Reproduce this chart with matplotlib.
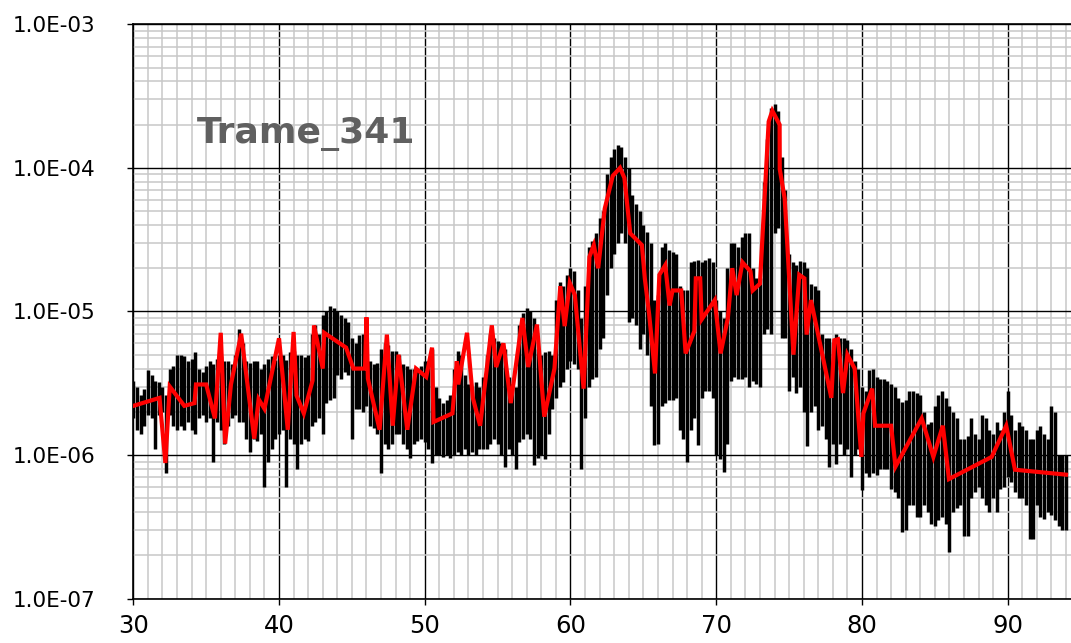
import numpy as np
import matplotlib
matplotlib.use("Agg")
import matplotlib.pyplot as plt
from matplotlib.ticker import MultipleLocator, LogLocator, FuncFormatter, NullFormatter

# ---------------- data ----------------
title_text = "Trame_341"
y_ticks = [1e-7, 1e-6, 1e-5, 1e-4, 1e-3]
x_ticks = [30, 40, 50, 60, 70, 80, 90]

# black (raw) signal: per 0.25-unit bin, upper and lower extent
bin_start, bin_step = 30.0, 0.25
raw_hi = [
    3.3e-6, 3.0e-6, 2.6e-6, 2.9e-6,   # 30
    3.9e-6, 3.6e-6, 3.3e-6, 3.2e-6,   # 31
    3.0e-6, 2.6e-6, 4.0e-6, 4.2e-6,   # 32
    5.0e-6, 5.0e-6, 4.9e-6, 4.5e-6,   # 33
    4.7e-6, 5.2e-6, 4.0e-6, 3.8e-6,   # 34
    4.2e-6, 4.5e-6, 4.3e-6, 4.7e-6,   # 35
    4.9e-6, 4.5e-6, 4.5e-6, 4.3e-6,   # 36
    5.0e-6, 7.5e-6, 6.0e-6, 4.5e-6,   # 37
    4.4e-6, 4.5e-6, 4.5e-6, 4.0e-6,   # 38
    4.3e-6, 4.7e-6, 4.9e-6, 4.6e-6,   # 39
    5.0e-6, 5.0e-6, 4.6e-6, 5.2e-6,   # 40
    5.3e-6, 5.0e-6, 5.0e-6, 4.8e-6,   # 41
    5.0e-6, 7.0e-6, 8.0e-6, 7.0e-6,   # 42
    9.5e-6, 1.0e-5, 1.1e-5, 1.05e-5,  # 43
    1.0e-5, 9.5e-6, 9.0e-6, 8.5e-6,   # 44
    6.5e-6, 6.0e-6, 6.8e-6, 7.0e-6,   # 45
    5.5e-6, 4.5e-6, 4.3e-6, 4.4e-6,   # 46
    5.5e-6, 6.0e-6, 5.8e-6, 5.3e-6,   # 47
    5.3e-6, 5.0e-6, 4.3e-6, 4.2e-6,   # 48
    4.0e-6, 4.0e-6, 4.0e-6, 4.2e-6,   # 49
    4.5e-6, 4.5e-6, 5.5e-6, 3.0e-6,   # 50
    2.5e-6, 2.3e-6, 2.4e-6, 2.6e-6,   # 51
    4.0e-6, 5.3e-6, 5.0e-6, 3.6e-6,   # 52
    3.1e-6, 3.0e-6, 3.2e-6, 3.0e-6,   # 53
    3.5e-6, 5.0e-6, 7.0e-6, 6.5e-6,   # 54
    6.2e-6, 6.0e-6, 5.5e-6, 3.5e-6,   # 55
    3.1e-6, 3.0e-6, 8.0e-6, 9.8e-6,   # 56
    1.05e-5, 1.0e-5, 9.0e-6, 5.5e-6,  # 57
    5.0e-6, 5.2e-6, 5.3e-6, 5.0e-6,   # 58
    1.2e-5, 1.6e-5, 1.5e-5, 1.8e-5,   # 59
    2.0e-5, 1.9e-5, 1.4e-5, 9.0e-6,   # 60
    1.5e-5, 2.8e-5, 3.1e-5, 3.5e-5,   # 61
    4.5e-5, 5.0e-5, 9.0e-5, 1.2e-4,   # 62
    1.35e-4, 1.45e-4, 1.4e-4, 1.2e-4, # 63
    1.0e-4, 6.5e-5, 5.6e-5, 5.0e-5,   # 64
    4.0e-5, 3.6e-5, 3.0e-5, 1.2e-5,   # 65
    1.3e-5, 2.8e-5, 3.0e-5, 2.7e-5,   # 66
    2.6e-5, 2.5e-5, 1.5e-5, 1.4e-5,   # 67
    1.4e-5, 2.2e-5, 2.25e-5, 2.3e-5,  # 68
    2.2e-5, 2.3e-5, 2.35e-5, 2.2e-5,  # 69
    1.2e-5, 1.0e-5, 9.0e-6, 2.0e-5,   # 70
    3.0e-5, 3.0e-5, 2.8e-5, 3.3e-5,   # 71
    3.5e-5, 3.5e-5, 2.0e-5, 1.7e-5,   # 72
    1.7e-5, 8.0e-5, 1.6e-4, 2.6e-4,   # 73
    2.8e-4, 2.5e-4, 1.2e-4, 7.0e-5,   # 74
    2.5e-5, 2.2e-5, 2.1e-5, 2.25e-5,  # 75
    2.2e-5, 2.0e-5, 1.55e-5, 1.5e-5,  # 76
    1.4e-5, 7.0e-6, 6.5e-6, 6.5e-6,   # 77
    6.0e-6, 7.0e-6, 6.5e-6, 6.5e-6,   # 78
    6.3e-6, 5.5e-6, 4.5e-6, 4.0e-6,   # 79
    3.0e-6, 2.8e-6, 3.9e-6, 3.95e-6,  # 80
    3.5e-6, 3.4e-6, 3.4e-6, 3.3e-6,   # 81
    3.1e-6, 3.0e-6, 2.5e-6, 2.35e-6,  # 82
    2.4e-6, 2.8e-6, 2.8e-6, 2.7e-6,   # 83
    2.6e-6, 2.0e-6, 1.65e-6, 1.7e-6,  # 84
    2.2e-6, 2.6e-6, 2.8e-6, 2.5e-6,   # 85
    2.2e-6, 2.0e-6, 1.8e-6, 1.3e-6,   # 86
    1.3e-6, 1.35e-6, 1.8e-6, 1.4e-6,  # 87
    1.3e-6, 1.9e-6, 1.8e-6, 1.5e-6,   # 88
    1.4e-6, 1.7e-6, 1.5e-6, 2.0e-6,   # 89
    2.8e-6, 1.9e-6, 1.5e-6, 1.7e-6,   # 90
    1.6e-6, 1.5e-6, 1.3e-6, 1.3e-6,   # 91
    1.5e-6, 1.6e-6, 1.4e-6, 1.3e-6,   # 92
    2.2e-6, 2.0e-6, 1.0e-6, 1.0e-6,   # 93
    1.0e-6,                           # 94
]
raw_lo = [
    1.8e-6, 1.5e-6, 1.4e-6, 1.6e-6,   # 30
    1.9e-6, 1.8e-6, 1.1e-6, 1.9e-6,   # 31
    2.0e-6, 7.5e-7, 1.9e-6, 1.6e-6,   # 32
    1.5e-6, 1.6e-6, 1.5e-6, 1.7e-6,   # 33
    1.5e-6, 1.4e-6, 1.8e-6, 1.9e-6,   # 34
    1.7e-6, 1.8e-6, 9.0e-7, 1.7e-6,   # 35
    1.5e-6, 1.2e-6, 1.6e-6, 1.8e-6,   # 36
    1.9e-6, 1.7e-6, 1.7e-6, 1.3e-6,   # 37
    1.05e-6, 1.3e-6, 1.25e-6, 1.4e-6, # 38
    6.0e-7, 9.0e-7, 1.1e-6, 1.3e-6,   # 39
    1.4e-6, 1.5e-6, 6.0e-7, 1.3e-6,   # 40
    1.2e-6, 8.0e-7, 1.2e-6, 1.3e-6,   # 41
    1.25e-6, 1.6e-6, 1.7e-6, 1.8e-6,  # 42
    1.4e-6, 2.3e-6, 2.4e-6, 2.5e-6,   # 43
    3.6e-6, 3.4e-6, 3.8e-6, 3.6e-6,   # 44
    1.3e-6, 2.1e-6, 2.1e-6, 2.0e-6,   # 45
    2.2e-6, 1.6e-6, 1.55e-6, 1.4e-6,  # 46
    7.5e-7, 1.2e-6, 1.1e-6, 1.2e-6,   # 47
    1.4e-6, 1.4e-6, 1.2e-6, 1.1e-6,   # 48
    9.5e-7, 1.2e-6, 1.25e-6, 1.3e-6,  # 49
    1.24e-6, 1.1e-6, 8.8e-7, 1.0e-6,  # 50
    1.0e-6, 9.7e-7, 1.0e-6, 9.5e-7,   # 51
    1.0e-6, 1.05e-6, 1.0e-6, 1.1e-6,  # 52
    1.0e-6, 1.05e-6, 1.0e-6, 1.1e-6,  # 53
    1.1e-6, 1.1e-6, 1.2e-6, 1.3e-6,   # 54
    1.2e-6, 1.0e-6, 8.2e-7, 1.1e-6,   # 55
    1.0e-6, 8.0e-7, 1.24e-6, 1.3e-6,  # 56
    1.4e-6, 1.3e-6, 8.5e-7, 9.5e-7,   # 57
    1.0e-6, 9.4e-7, 1.4e-6, 2.1e-6,   # 58
    2.5e-6, 3.0e-6, 3.25e-6, 4.0e-6,  # 59
    4.5e-6, 4.3e-6, 4.0e-6, 8.0e-7,   # 60
    1.8e-6, 3.0e-6, 3.4e-6, 3.5e-6,   # 61
    5.5e-6, 6.5e-6, 1.3e-5, 2.0e-5,   # 62
    2.5e-5, 3.0e-5, 3.5e-5, 3.0e-5,   # 63
    8.5e-6, 9.0e-6, 8.0e-6, 5.5e-6,   # 64
    7.0e-6, 5.0e-6, 2.2e-6, 1.18e-6,  # 65
    1.2e-6, 2.2e-6, 2.3e-6, 2.4e-6,   # 66
    2.4e-6, 2.5e-6, 1.5e-6, 1.3e-6,   # 67
    9.0e-7, 1.5e-6, 1.8e-6, 1.18e-6,  # 68
    2.5e-6, 2.8e-6, 2.8e-6, 2.5e-6,   # 69
    1.0e-6, 9.4e-7, 7.6e-7, 1.2e-6,   # 70
    3.3e-6, 3.5e-6, 3.4e-6, 3.4e-6,   # 71
    3.5e-6, 3.0e-6, 3.3e-6, 3.1e-6,   # 72
    3.0e-6, 7.0e-6, 7.5e-6, 7.0e-6,   # 73
    3.5e-5, 3.8e-5, 6.5e-6, 6.5e-6,   # 74
    2.8e-6, 3.5e-6, 2.7e-6, 3.0e-6,   # 75
    2.0e-6, 1.15e-6, 2.0e-6, 2.2e-6,  # 76
    1.5e-6, 1.6e-6, 1.3e-6, 8.3e-7,   # 77
    1.2e-6, 8.6e-7, 1.2e-6, 1.0e-6,   # 78
    1.1e-6, 7.0e-7, 1.0e-6, 1.1e-6,   # 79
    5.7e-7, 7.5e-7, 7.0e-7, 7.5e-7,   # 80
    7.3e-7, 8.0e-7, 8.0e-7, 8.0e-7,   # 81
    5.8e-7, 5.5e-7, 5.0e-7, 2.9e-7,   # 82
    3.0e-7, 4.5e-7, 4.5e-7, 3.7e-7,   # 83
    3.7e-7, 4.5e-7, 4.0e-7, 3.3e-7,   # 84
    3.2e-7, 3.5e-7, 3.7e-7, 3.3e-7,   # 85
    2.1e-7, 4.0e-7, 4.3e-7, 4.5e-7,   # 86
    2.75e-7, 2.75e-7, 5.0e-7, 5.5e-7, # 87
    6.0e-7, 5.0e-7, 4.5e-7, 4.0e-7,   # 88
    5.0e-7, 4.0e-7, 5.8e-7, 6.0e-7,   # 89
    7.0e-7, 6.5e-7, 5.5e-7, 5.0e-7,   # 90
    5.0e-7, 4.5e-7, 2.6e-7, 2.6e-7,   # 91
    4.5e-7, 3.7e-7, 3.6e-7, 4.0e-7,   # 92
    3.8e-7, 3.5e-7, 3.2e-7, 3.0e-7,   # 93
    3.0e-7,                           # 94
]

# red (smoothed) series
red_x = [30.0, 31.8, 32.2, 32.5, 33.5, 34.2, 34.3, 35.0, 35.6, 36.0, 36.3, 36.7,
         37.4, 38.3, 38.6, 39.0, 40.0, 40.6, 41.0, 41.2, 41.7, 42.3, 42.4, 43.0,
         43.1, 44.6, 45.1, 45.9, 46.0, 46.1, 46.9, 47.4, 47.8, 48.2, 48.8, 49.4,
         50.1, 50.5, 50.6, 51.9, 52.2, 52.3, 52.9, 53.3, 53.8, 54.6, 54.9, 55.4,
         55.9, 56.7, 57.1, 57.7, 58.2, 58.9, 59.3, 59.6, 59.95, 60.3, 60.9, 61.3,
         61.6, 61.9, 62.35, 62.9, 63.4, 63.7, 64.1, 64.9, 65.1, 65.4, 65.8, 66.1,
         66.5, 66.8, 67.0, 67.6, 67.9, 68.5, 68.6, 68.9, 69.0, 69.9, 70.3, 70.8,
         71.1, 71.4, 71.8, 72.35, 72.5, 73.0, 73.6, 73.85, 74.35, 74.36, 74.7, 75.3,
         75.7, 76.05, 76.2, 76.5, 77.9, 78.1, 78.35, 78.7, 79.0, 79.5, 79.96, 80.1,
         80.7, 80.9, 82.0, 82.3, 84.1, 84.9, 85.55, 85.97, 88.9, 89.9, 90.5, 94.0]
red_y = [2.2e-6, 2.5e-6, 8.8e-7, 3.0e-6, 2.2e-6, 2.3e-6, 3.1e-6, 3.1e-6, 1.8e-6, 7.1e-6, 1.2e-6, 3.1e-6,
         7.0e-6, 1.3e-6, 2.45e-6, 2.1e-6, 6.5e-6, 1.5e-6, 7.2e-6, 2.6e-6, 1.95e-6, 3.3e-6, 8.0e-6, 4.0e-6,
         7.1e-6, 5.6e-6, 4.0e-6, 4.0e-6, 9.1e-6, 3.4e-6, 1.5e-6, 6.9e-6, 1.6e-6, 5.0e-6, 1.5e-6, 4.0e-6,
         3.5e-6, 5.6e-6, 1.7e-6, 1.95e-6, 4.5e-6, 3.1e-6, 7.1e-6, 2.5e-6, 1.6e-6, 8.0e-6, 4.1e-6, 6.0e-6,
         2.3e-6, 9.0e-6, 4.1e-6, 8.1e-6, 1.85e-6, 4.0e-6, 1.5e-5, 7.9e-6, 1.58e-5, 1.3e-5, 2.9e-6, 2.4e-5,
         2.9e-5, 2.0e-5, 5.2e-5, 8.8e-5, 1.0e-4, 8.5e-5, 3.5e-5, 2.9e-5, 1.7e-5, 9.5e-6, 3.7e-6, 1.8e-5,
         2.1e-5, 1.1e-5, 1.4e-5, 1.4e-5, 5.1e-6, 7.3e-6, 1.7e-5, 1.7e-5, 8.8e-6, 1.2e-5, 5.1e-6, 9.0e-6,
         2.0e-5, 1.3e-5, 2.2e-5, 1.9e-5, 1.4e-5, 1.56e-5, 2.1e-4, 2.5e-4, 2.0e-4, 9.8e-5, 6.1e-5, 5.0e-6,
         1.8e-5, 1.7e-5, 6.9e-6, 1.2e-5, 2.5e-6, 6.3e-6, 6.4e-6, 2.7e-6, 5.0e-6, 4.0e-6, 9.7e-7, 1.95e-6,
         2.9e-6, 1.6e-6, 1.6e-6, 8.3e-7, 1.8e-6, 9.7e-7, 1.6e-6, 6.8e-7, 9.7e-7, 1.6e-6, 7.9e-7, 7.3e-7]

# ---------------- figure ----------------
W, H = 1071, 643
fig = plt.figure(figsize=(W / 100, H / 100), dpi=100)
ax_left, ax_top, ax_bottom = 133.3, 24.3, 598.6
px_per_unit = 14.573
x_lo, x_hi = 30, 100
ax = fig.add_axes([ax_left / W, (H - ax_bottom) / H,
                   (x_hi - x_lo) * px_per_unit / W, (ax_bottom - ax_top) / H])

raw_x = bin_start + bin_step * np.arange(len(raw_hi))
ax.vlines(raw_x, raw_lo, raw_hi, colors="black", linewidth=2.5, zorder=2)
ax.plot(red_x, red_y, color="#ff0000", linewidth=3.0, zorder=3,
        solid_joinstyle="miter")

ax.set_yscale("log")
ax.set_ylim(1e-7, 1e-3)
ax.set_xlim(x_lo, x_hi)
ax.set_yticks(y_ticks)
ax.set_xticks(x_ticks)
ax.yaxis.set_minor_locator(LogLocator(base=10, subs=np.arange(2, 10), numticks=20))
ax.yaxis.set_minor_formatter(NullFormatter())
ax.xaxis.set_minor_locator(MultipleLocator(1))
ax.yaxis.set_major_formatter(FuncFormatter(lambda v, p: f"{v:.1E}"))
ax.xaxis.set_major_formatter(FuncFormatter(lambda v, p: f"{v:g}"))

ax.set_axisbelow(True)
ax.grid(which="minor", color="#c8c8c8", linewidth=1.1)
ax.grid(which="major", color="black", linewidth=1.0)

for s in ["left", "top", "bottom", "right"]:
    ax.spines[s].set_color("black")
    ax.spines[s].set_linewidth(1.2)

ax.tick_params(which="major", direction="out", length=4, width=1.0, color="black")
ax.tick_params(which="minor", length=0)
ax.tick_params(axis="y", which="major", labelsize=15.5, pad=23)
ax.tick_params(axis="x", which="major", labelsize=17.5, pad=7)
for lab in ax.get_yticklabels() + ax.get_xticklabels():
    lab.set_fontfamily("DejaVu Sans")

fig.text(306 / W, 1 - 134 / H, title_text, fontsize=26, fontweight="bold",
         color="#606060", ha="center", va="center", family="DejaVu Sans")

fig.savefig("out.png", dpi=100)
